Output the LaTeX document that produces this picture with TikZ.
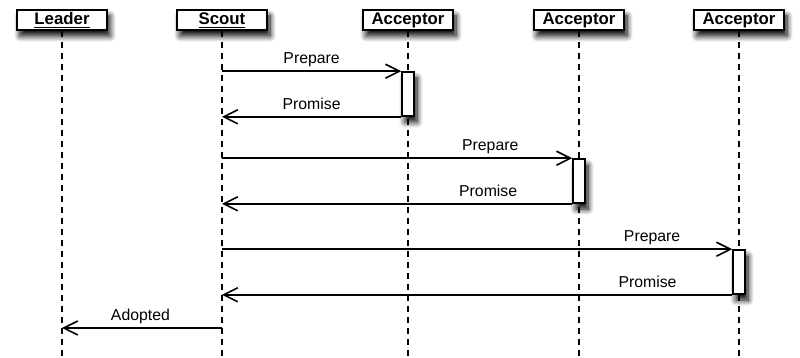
\documentclass[tikz,border=0pt]{standalone}
\usepackage{fontspec}
\setmainfont{Liberation Sans}
\usetikzlibrary{arrows.meta,shadows.blur}
\begin{document}
\begin{tikzpicture}[x=0.5pt, y=-0.5pt,
    font=\fontsize{7.9}{9}\selectfont,
    shade box/.style={blur shadow={shadow xshift=1.5pt, shadow yshift=-3pt, shadow opacity=100, shadow blur steps=10, shadow blur radius=3pt}},
    actor/.style={draw, thick, fill=white, minimum width=45pt, minimum height=10pt, inner sep=0pt,
        text height=6.5pt, text depth=2pt, font=\fontsize{8.4}{9}\selectfont\bfseries, shade box},
    act/.style={draw, thick, fill=white, minimum width=6pt, minimum height=22pt, inner sep=0pt, shade box},
    life/.style={thick, dash pattern=on 3pt off 2.5pt},
    msg/.style={thick, -{Straight Barb[length=7pt, width=7pt]}},
    lbl/.style={above=-1.5pt, text height=5.8pt, text depth=1.6pt, text=black}]
    \useasboundingbox (0,0) rectangle (800,358);
    % Kopjes
    \node[actor] (leader) at (62,20) {\underline{Leader}};
    \node[actor] (scout) at (222,20) {\underline{Scout}};
    \node[actor] (acc1) at (408,20) {\underline{Acceptor}};
    \node[actor] (acc2) at (579,20) {\underline{Acceptor}};
    \node[actor] (acc3) at (739,20) {\underline{Acceptor}};
    \coordinate (bottom) at (0,358);
    \coordinate (adopt) at (0,328);

    % Levenslijnen
    \foreach \p in {leader, scout, acc1, acc2, acc3}
        \draw[life] (\p.south) -- (\p |- bottom);

    % Activaties
    \node[act] (act1) at (acc1 |- 0,94) {};
    \node[act] (act2) at (acc2 |- 0,181) {};
    \node[act] (act3) at (acc3 |- 0,272) {};

    % Berichten
    \draw[msg] (scout |- act1.north) -- (act1.north west) node[lbl, pos=0.5] {Prepare};
    \draw[msg] (act1.south west) -- (scout |- act1.south) node[lbl, pos=0.5] {Promise};
    \draw[msg] (scout |- act2.north) -- (act2.north west) node[lbl, pos=0.766] {Prepare};
    \draw[msg] (act2.south west) -- (scout |- act2.south) node[lbl, pos=0.24] {Promise};
    \draw[msg] (scout |- act3.north) -- (act3.north west) node[lbl, pos=0.843] {Prepare};
    \draw[msg] (act3.south west) -- (scout |- act3.south) node[lbl, pos=0.166] {Promise};
    \draw[msg] (scout |- adopt) -- (leader |- adopt) node[lbl, pos=0.51] {Adopted};
\end{tikzpicture}
\end{document}
